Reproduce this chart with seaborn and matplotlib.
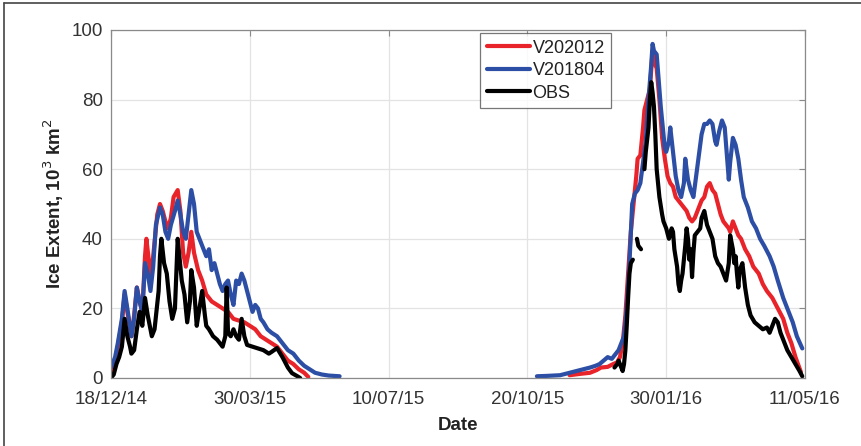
import numpy as np
import pandas as pd
import matplotlib.pyplot as plt
import matplotlib.dates as mdates
from matplotlib.lines import Line2D
import seaborn as sns

start = pd.Timestamp("2014-12-18")

# days since 18/12/14, None breaks the line
v202012_days = [0, 3, 5, 8, 10, 12, 15, 17, 19, 21, 23, 25, 26, 28, 29, 31, 34, 36, 38, 40, 42, 44, 46, 49,
                51, 53, 55, 57, 59, 61, 64, 67, 70, 74, 78, 82, 86, 90, 94, 98, 102, 106, 110, 114, 118,
                122, 126, 130, 134, 138, 142, 145, 200,
                337, 345, 352, 357, 360, 365, 369, 372, 374, 376, 378, 380, 382, 384, 386, 387, 389, 391,
                392, 394, 396, 398, 399, 401, 403, 405, 407, 409, 411, 413, 415, 417, 419, 421, 423, 425,
                427, 429, 431, 434, 436, 438, 440, 442, 444, 446, 448, 450, 452, 454, 455, 457, 459, 461,
                463, 466, 469, 472, 476, 479, 482, 486, 490, 494, 497, 500, 503, 507]
v202012_vals = [1, 4, 9, 16, 24, 19, 12, 18, 26, 22, 19, 35, 40, 33, 28, 35, 47, 50, 48, 45, 43, 46, 52, 54,
                48, 36, 32, 36, 42, 36, 31, 28, 24, 22, 21, 20, 19, 17, 16.5, 16, 15, 14, 12, 11, 10,
                9, 7, 5, 4, 2.5, 1.5, 0.3, None,
                0.8, 1.2, 1.5, 2.3, 3, 3.2, 4, 4.5, 6, 10, 18, 30, 42, 50, 58, 63, 64, 72,
                77, 80, 83, 94, 91, 89, 80, 69, 63, 58, 56, 55, 52, 51, 50, 49, 48, 46,
                45, 46, 48, 51, 52, 55, 56, 54, 53, 50, 47, 45, 44, 43, 42, 45, 43, 41,
                40, 37, 35, 32, 30, 27, 25, 23, 20, 17, 13, 10, 6, 1.7]

v201804_days = [0, 3, 5, 8, 10, 12, 15, 17, 19, 21, 23, 25, 27, 29, 31, 33, 36, 38, 40, 42, 44, 47, 49,
                51, 53, 55, 57, 59, 61, 63, 65, 67, 70, 72, 74, 76, 78, 80, 82, 84, 86, 88, 90, 92, 94,
                96, 98, 100, 102, 104, 106, 108, 110, 112, 115, 118, 122, 126, 130, 134, 138, 142, 146,
                150, 155, 160, 168, 200,
                313, 320, 330, 337, 342, 347, 352, 356, 359, 362, 365, 368, 371, 373, 375, 377, 379, 381,
                383, 385, 387, 389, 391, 393, 395, 397, 398, 399, 401, 402, 404, 405, 407, 408, 410, 411,
                413, 415, 417, 419, 421, 422, 424, 426, 428, 430, 432, 434, 436, 438, 440, 442, 444, 445,
                447, 449, 451, 453, 454, 455, 457, 459, 461, 463, 465, 468, 471, 474, 477, 480, 484, 487,
                490, 494, 498, 501, 504, 508]
v201804_vals = [3, 6, 10, 17, 25, 20, 12, 17, 26, 22, 19, 33, 30, 25, 32, 44, 49, 47, 42, 40, 44, 48, 51,
                47, 42, 40, 47, 54, 50, 42, 40, 38, 35, 37, 31, 33, 30, 27, 25, 27, 28, 24, 21, 28, 27,
                30, 28, 25, 22, 19, 21, 20, 17, 16, 14, 13, 12, 10, 8, 7, 5, 3.5, 2.5,
                1.5, 1, 0.7, 0.5, None,
                0.5, 0.6, 0.8, 1.5, 2, 2.5, 3, 3.5, 4, 5, 6, 5.5, 7, 8, 10, 12, 20, 33,
                50, 53, 54, 56, 62, 68, 80, 90, 96, 94, 93, 88, 78, 74, 66, 65, 68, 72,
                65, 58, 54, 52, 56, 63, 57, 54, 52, 58, 64, 70, 73, 73, 74, 73, 68, 67,
                71, 74, 72, 62, 57, 62, 69, 67, 63, 57, 52, 49, 45, 43, 40, 38, 35, 32,
                28, 23, 19, 16, 12, 8.5]

obs_days = [0, 2, 4, 6, 8, 10, 12, 14, 15, 17, 19, 21, 23, 25, 27, 30, 32, 35, 36, 37, 39, 41, 43, 45,
            47, 49, 50, 52, 54, 56, 58, 59, 61, 63, 65, 67, 69, 70, 72, 75, 78, 80, 82, 84, 85, 86, 88,
            90, 92, 94, 96, 98, 100, 104, 108, 112, 116, 118, 122, 126, 130, 133, 137, 139, 200,
            370, 372, 373, 374, 375, 376, 377, 378, 379, 380, 381, 382, 383.5, 384,
            386.5, 387.5, 389.5, 390,
            392, 393, 395, 396, 397, 398, 399, 400, 401, 403, 405, 406, 408, 410, 412, 413, 414, 416,
            417, 418, 419, 420, 422, 423, 424, 425, 426, 427, 428, 429, 431, 433, 434, 436, 437, 438,
            440, 442, 444, 446, 448, 450, 452, 454, 455, 457, 458, 459, 460, 461, 462, 464, 466, 468,
            470, 473, 476, 479, 482, 484, 486, 488, 490, 492, 494, 497, 500, 503, 506, 508]
obs_vals = [0, 1, 4, 6, 9, 17, 12, 9, 7, 8, 14, 19, 15, 23, 18, 12, 14, 25, 35, 40, 33, 30, 22, 17,
            20, 40, 36, 28, 24, 16, 22, 31, 26, 15, 20, 25, 18, 15, 14, 12, 11, 10, 9, 12, 26, 13, 12,
            14, 12, 11, 17, 12, 9.5, 9, 8.5, 8, 7, 7.5, 8.6, 6, 3, 1.4, 0.5, 0, None,
            3, 4, 5, 4, 3, 2, 4, 8, 15, 23, 30, 33, 34, None,
            40, 38, 37, None,
            60, 65, 72, 80, 85, 82, 78, 70, 60, 52, 47, 45, 43, 40, 43, 42, 37, 32,
            27, 25, 28, 30, 38, 43, 40, 34, 37, 29, 36, 41, 42, 43, 46, 48, 46, 44,
            42, 40, 35, 33, 32, 30, 28, 33, 41, 37, 33, 35, 30, 26, 31, 33, 26, 21,
            18, 16, 15, 14, 14.5, 13, 15, 17, 16, 13, 11, 8, 6, 4, 2, 0.5]

series_names = ["V202012", "V201804", "OBS"]
series_colors = ["#e8232a", "#2d4ea5", "#000000"]
tick_dates = ["2014-12-18", "2015-03-30", "2015-07-10", "2015-10-20", "2016-01-30", "2016-05-11"]


def to_frame(days, vals, name):
    d = pd.DataFrame({"day": days, "value": pd.Series(vals, dtype="object")})
    d["value"] = d["value"].astype(float)
    d["seg"] = d["value"].isna().cumsum()
    d = d.dropna()
    d["date"] = start + pd.to_timedelta(d["day"], unit="D")
    d["series"] = name
    d["unit"] = name + "_" + d["seg"].astype(str)
    return d


df = pd.concat([
    to_frame(v202012_days, v202012_vals, series_names[0]),
    to_frame(v201804_days, v201804_vals, series_names[1]),
    to_frame(obs_days, obs_vals, series_names[2]),
], ignore_index=True)

sns.set_style("white")
plt.rcParams["font.family"] = ["Liberation Sans", "DejaVu Sans"]

fig = plt.figure(figsize=(8.62, 4.46), dpi=100)
ax = fig.add_axes([111 / 862, 1 - 378 / 446, 694 / 862, 348 / 446])

sns.lineplot(data=df, x="date", y="value", hue="series", units="unit", estimator=None,
             hue_order=series_names, palette=series_colors, sort=False,
             linewidth=3.0, ax=ax, legend=False)

ax.set_xlim(pd.Timestamp(tick_dates[0]), pd.Timestamp(tick_dates[-1]))
ax.set_ylim(0, 100)
ax.set_xticks([pd.Timestamp(t) for t in tick_dates])
ax.xaxis.set_major_formatter(mdates.DateFormatter("%d/%m/%y"))
ax.set_yticks([0, 20, 40, 60, 80, 100])
ax.grid(True, color="#e3e3e3", linewidth=0.9)
ax.set_axisbelow(True)
for s in ax.spines.values():
    s.set_color("#8a8a8a")
    s.set_linewidth(0.9)
ax.tick_params(direction="in", length=4, width=0.8, color="#8a8a8a",
               labelsize=13.5, labelcolor="#333333", top=True, right=True,
               labeltop=False, labelright=False)
ax.tick_params(axis="x", pad=9)
ax.tick_params(axis="y", pad=6)

ax.set_xlabel("Date", fontsize=13.5, fontweight="bold", color="#222222", labelpad=7)
ax.set_ylabel("Ice Extent, 10$^3$ km$^2$", fontsize=13.5, fontweight="bold", color="#222222", labelpad=4)

handles = [Line2D([], [], color=c, lw=3.0) for c in series_colors]
leg = ax.legend(handles, series_names, loc="upper left", bbox_to_anchor=(0.532, 0.99),
                fontsize=13, frameon=True, fancybox=False, handlelength=2.4,
                handletextpad=0.15, borderpad=0.35, labelspacing=0.3, borderaxespad=0)
leg.get_frame().set_edgecolor("#555555")
leg.get_frame().set_linewidth(0.9)
for t in leg.get_texts():
    t.set_color("#222222")

# outer frame edges visible in the reference
fig.add_artist(Line2D([4 / 862, 4 / 862], [0, 1 - 3 / 446], color="#444444", lw=1.2))
fig.add_artist(Line2D([4 / 862, 1], [1 - 3 / 446, 1 - 3 / 446], color="#444444", lw=1.2))

fig.savefig("out.png", dpi=100)
